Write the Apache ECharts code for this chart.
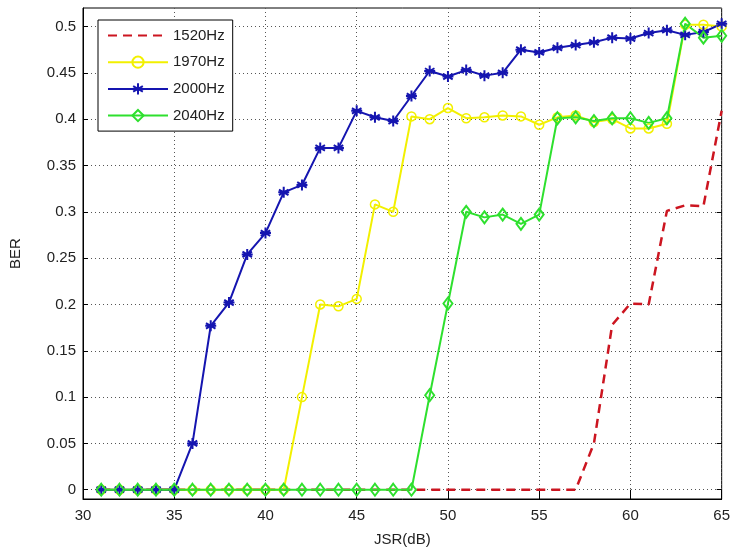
<!DOCTYPE html>
<html>
<head>
<meta charset="utf-8">
<script src="https://cdn.jsdelivr.net/npm/echarts@6/dist/echarts.min.js"></script>
<style>
html,body{margin:0;padding:0;background:#fff;}
#main{width:733px;height:552px;}
</style>
</head>
<body>
<div id="main"></div>
<script>
// JSR values (dB)
var jsr = [31,32,33,34,35,36,37,38,39,40,41,42,43,44,45,46,47,48,49,50,51,52,53,54,55,56,57,58,59,60,61,62,63,64,65];
var ber1520 = [0,0,0,0,0,0,0,0,0,0,0,0,0,0,0,0,0,0,0,0,0,0,0,0,0,0,0,0.05,0.178,0.201,0.2,0.301,0.307,0.306,0.409];
var ber1970 = [0,0,0,0,0,0,0,0,0,0,0,0.1,0.2,0.198,0.206,0.308,0.3,0.403,0.4,0.412,0.401,0.402,0.404,0.403,0.394,0.402,0.404,0.397,0.4,0.39,0.39,0.395,0.502,0.502,0.5];
var ber2000 = [0,0,0,0,0,0.05,0.177,0.202,0.254,0.277,0.321,0.329,0.369,0.369,0.409,0.402,0.398,0.425,0.452,0.446,0.453,0.447,0.45,0.475,0.472,0.477,0.48,0.483,0.488,0.487,0.493,0.496,0.491,0.494,0.503];
var ber2040 = [0,0,0,0,0,0,0,0,0,0,0,0,0,0,0,0,0,0,0.102,0.201,0.3,0.294,0.297,0.287,0.297,0.401,0.402,0.398,0.401,0.401,0.396,0.401,0.503,0.488,0.49];
var names = ['1520Hz','1970Hz','2000Hz','2040Hz'];
var yTicks = [0,0.05,0.1,0.15,0.2,0.25,0.3,0.35,0.4,0.45,0.5];

function pairs(vals){
  return jsr.map(function(x,i){ return [x, vals[i]]; });
}

var asterisk = 'path://M0,-5L0,5M-4.33,-2.5L4.33,2.5M-4.33,2.5L4.33,-2.5M-5,0L5,0';
var font = '"Liberation Sans", Arial, sans-serif';
var gridLine = {show:true, lineStyle:{color:'#555', width:1, type:[1,3]}};

var myChart = echarts.init(document.getElementById('main'));
var option = {
  backgroundColor:'#fff',
  animation:false,
  textStyle:{fontFamily:font},
  grid:{left:82, right:11, top:8, bottom:53, show:true, borderColor:'#000', borderWidth:1},
  legend:{
    orient:'vertical', left:98, top:20,
    padding:[8,8,8,9], itemGap:11.7, itemWidth:60, itemHeight:14,
    backgroundColor:'#fff', borderColor:'#000', borderWidth:1,
    textStyle:{fontSize:15, color:'#222', fontFamily:font},
    data:[
      {name:names[0], itemStyle:{color:'rgba(0,0,0,0)', borderColor:'rgba(0,0,0,0)', borderWidth:0}},
      names[1], names[2], names[3]
    ]
  },
  xAxis:[{
    type:'value', min:30, max:65, interval:5,
    name:'JSR(dB)', nameLocation:'middle', nameGap:33,
    nameTextStyle:{fontSize:15, color:'#222'},
    axisLine:{onZero:false, lineStyle:{color:'#000'}},
    axisTick:{inside:true, length:5, lineStyle:{color:'#000'}},
    axisLabel:{fontSize:15, color:'#222', margin:9},
    splitLine:gridLine
  },{
    type:'value', position:'top', min:30, max:65, interval:5,
    axisLine:{show:false},
    axisTick:{inside:true, length:5, lineStyle:{color:'#000'}},
    axisLabel:{show:false}, splitLine:{show:false}
  }],
  yAxis:[{
    type:'value', min:-0.01, max:0.52,
    name:'BER', nameLocation:'middle', nameGap:60,
    nameTextStyle:{fontSize:15, color:'#222'},
    axisLine:{onZero:false, lineStyle:{color:'#000'}},
    axisTick:{inside:true, length:5, lineStyle:{color:'#000'}, customValues:yTicks},
    axisLabel:{fontSize:15, color:'#222', margin:7, customValues:yTicks},
    splitLine:gridLine
  },{
    type:'value', position:'right', min:-0.01, max:0.52,
    axisLine:{show:false},
    axisTick:{inside:true, length:5, lineStyle:{color:'#000'}, customValues:yTicks},
    axisLabel:{show:false, customValues:yTicks}, splitLine:{show:false}
  }],
  series:[{
    name:names[0], type:'line', data:pairs(ber1520),
    showSymbol:false, symbol:'none',
    lineStyle:{color:'#cc1520', width:2.5, type:[9,6]},
    itemStyle:{color:'#cc1520'}
  },{
    name:names[1], type:'line', data:pairs(ber1970),
    symbol:'circle', symbolSize:9,
    lineStyle:{color:'#f2f000', width:2},
    itemStyle:{color:'rgba(0,0,0,0)', borderColor:'#f2f000', borderWidth:1.5}
  },{
    name:names[2], type:'line', data:pairs(ber2000),
    symbol:asterisk, symbolSize:11,
    lineStyle:{color:'#1515b0', width:2},
    itemStyle:{color:'#1515b0', borderColor:'#1515b0', borderWidth:2}
  },{
    name:names[3], type:'line', data:pairs(ber2040),
    symbol:'diamond', symbolSize:[9,12],
    lineStyle:{color:'#2ee02e', width:2},
    itemStyle:{color:'rgba(0,0,0,0)', borderColor:'#2ee02e', borderWidth:2}
  }]
};
myChart.setOption(option);
</script>
</body>
</html>
